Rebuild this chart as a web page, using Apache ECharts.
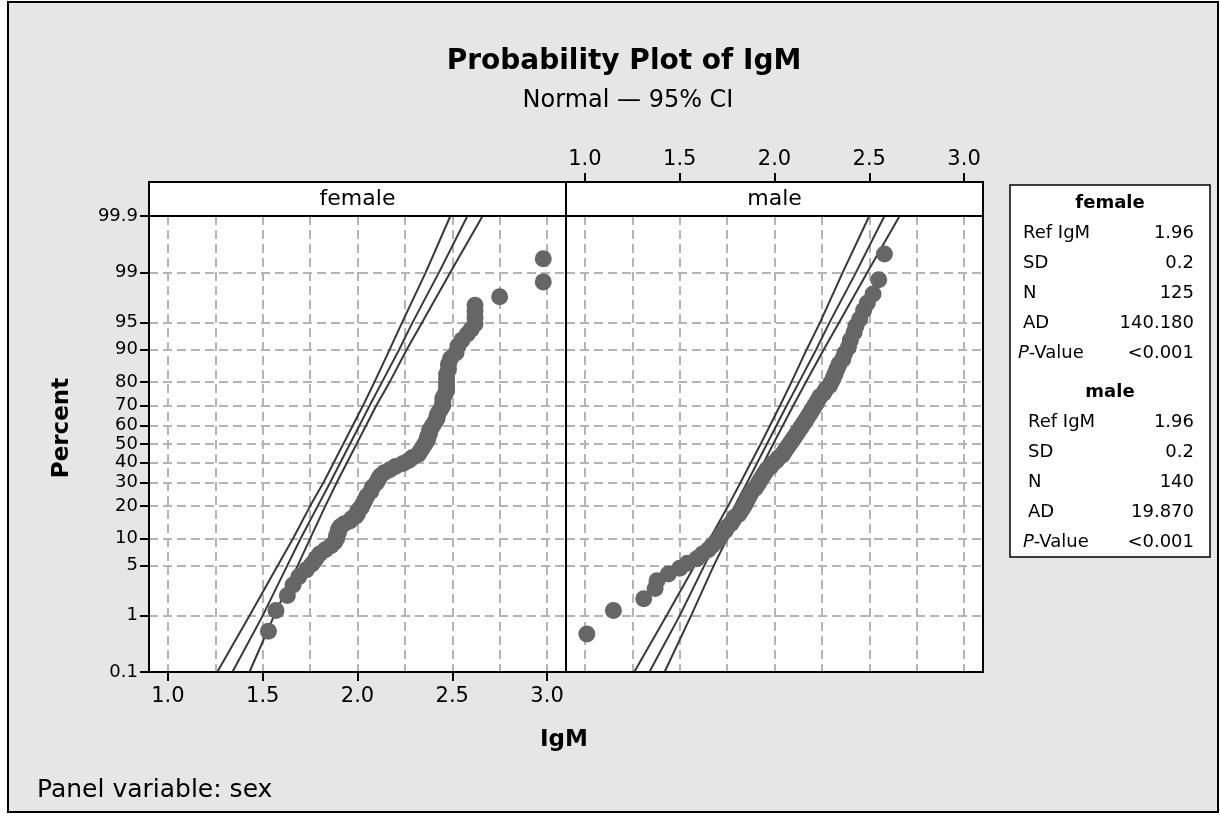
<!DOCTYPE html>
<html><head><meta charset="utf-8">
<script src="https://cdn.jsdelivr.net/npm/echarts@6/dist/echarts.min.js"></script>
<style>html,body{margin:0;padding:0;background:#fff}#c{width:1220px;height:819px}</style>
</head><body><div id="c"></div>
<script>
// ---------- data ----------
const pctTicks = [0.1, 1, 5, 10, 20, 30, 40, 50, 60, 70, 80, 90, 95, 99, 99.9];
const xTicks = [1.0, 1.5, 2.0, 2.5, 3.0];
const xGridVals = [1.0, 1.25, 1.5, 1.75, 2.0, 2.25, 2.5, 2.75, 3.0];
const panels = ['female', 'male'];

const femaleIgM = [1.53,1.57,1.63,1.66,1.69,1.73,1.76,1.78,1.80,1.83,1.86,1.88,1.89,1.89,1.90,1.90,1.91,1.93,1.96,1.97,1.99,2.00,2.00,2.01,2.02,2.03,2.04,2.05,2.07,2.08,2.10,2.11,2.12,2.14,2.17,2.20,2.24,2.27,2.29,2.32,2.33,2.34,2.35,2.36,2.37,2.37,2.38,2.38,2.39,2.40,2.41,2.42,2.42,2.43,2.44,2.45,2.45,2.45,2.46,2.47,2.47,2.47,2.47,2.47,2.48,2.48,2.49,2.52,2.53,2.55,2.58,2.60,2.62,2.62,2.62,2.62,2.75,2.98,2.98];
const femalePct = [0.56,1.2,2.0,2.8,3.6,4.4,5.2,6.0,6.8,7.6,8.4,9.2,10.0,10.8,11.6,12.4,13.2,14.0,14.8,15.6,16.4,17.2,18.0,18.8,19.6,21,22.4,24,26,28,30,31.6,33.2,34.8,36.4,38,39.6,41.2,42.8,44.4,46,47.6,49.2,50.8,52.4,54,55.6,57.2,58.8,60.4,62,63.6,65.2,66.8,68.4,70,71.6,73.2,74.8,76.4,78,79.6,81.2,82.8,84.4,86,87.6,89.2,90.8,92.0,93.2,94.0,94.8,95.6,96.4,97.0,97.7,98.6,99.4];

const maleIgM = [1.01,1.15,1.31,1.37,1.38,1.44,1.50,1.54,1.59,1.62,1.65,1.67,1.69,1.71,1.72,1.74,1.75,1.77,1.78,1.79,1.81,1.82,1.83,1.84,1.85,1.86,1.87,1.88,1.90,1.91,1.92,1.93,1.94,1.95,1.96,1.98,1.99,2.01,2.02,2.04,2.05,2.06,2.07,2.08,2.09,2.10,2.11,2.12,2.13,2.14,2.15,2.16,2.17,2.18,2.19,2.20,2.21,2.22,2.23,2.24,2.26,2.27,2.29,2.30,2.31,2.32,2.33,2.34,2.36,2.37,2.39,2.40,2.42,2.43,2.45,2.47,2.49,2.52,2.55,2.58];
const malePct = [0.5,1.2,1.8,2.5,3.2,3.9,4.6,5.3,6.0,6.8,7.6,8.4,9.2,10.0,11.0,12.0,13.0,14.0,15.0,16.0,17,18,19,20,21.5,23,24.5,26,27.5,29,30.5,32,33.5,35,36.5,38,39.5,41,42.5,44,45.5,47,48.5,50,51.5,53,54.5,56,57.5,59,60.5,62,63.5,65,66.5,68,69.5,71,72.5,74,75.5,77,78.5,80,81.5,83,84.5,86,87.5,89,90.5,92,93.5,94.5,95.5,96.5,97.2,97.9,98.7,99.5];

const linePct = [0.1, 1, 5, 10, 20, 30, 50, 70, 80, 90, 95, 99, 99.9];
const femaleLower = [1.26,1.43,1.58,1.66,1.75,1.82,1.925,2.03,2.09,2.17,2.235,2.36,2.49];
const femaleFit   = [1.34,1.50,1.63,1.70,1.79,1.855,1.96,2.065,2.13,2.22,2.29,2.43,2.58];
const femaleUpper = [1.43,1.56,1.685,1.75,1.83,1.89,1.995,2.10,2.17,2.26,2.34,2.49,2.66];
const maleLower = [1.26,1.43,1.58,1.66,1.755,1.82,1.927,2.03,2.09,2.17,2.24,2.36,2.50];
const maleFit   = [1.34,1.50,1.63,1.70,1.79,1.855,1.96,2.065,2.13,2.22,2.29,2.43,2.58];
const maleUpper = [1.42,1.56,1.68,1.75,1.83,1.89,1.993,2.10,2.166,2.26,2.34,2.49,2.66];

const statLabels = ['Ref IgM', 'SD', 'N', 'AD', '{i|P}-Value'];
const femaleStats = ['1.96', '0.2', '125', '140.180', '<0.001'];
const maleStats = ['1.96', '0.2', '140', '19.870', '<0.001'];

// ---------- normal probability scale ----------
function probit(p){
  const a=[-3.969683028665376e+01,2.209460984245205e+02,-2.759285104469687e+02,1.383577518672690e+02,-3.066479806614716e+01,2.506628277459239e+00];
  const b=[-5.447609879822406e+01,1.615858368580409e+02,-1.556989798598866e+02,6.680131188771972e+01,-1.328068155288572e+01];
  const c=[-7.784894002430293e-03,-3.223964580411365e-01,-2.400758277161838e+00,-2.549732539343734e+00,4.374664141464968e+00,2.938163982698783e+00];
  const d=[7.784695709041462e-03,3.224671290700398e-01,2.445134137142996e+00,3.754408661907416e+00];
  const pl=0.02425, ph=1-pl; let q, r;
  if(p<pl){q=Math.sqrt(-2*Math.log(p));return (((((c[0]*q+c[1])*q+c[2])*q+c[3])*q+c[4])*q+c[5])/((((d[0]*q+d[1])*q+d[2])*q+d[3])*q+1);}
  if(p<=ph){q=p-0.5;r=q*q;return (((((a[0]*r+a[1])*r+a[2])*r+a[3])*r+a[4])*r+a[5])*q/(((((b[0]*r+b[1])*r+b[2])*r+b[3])*r+b[4])*r+1);}
  q=Math.sqrt(-2*Math.log(1-p));return -(((((c[0]*q+c[1])*q+c[2])*q+c[3])*q+c[4])*q+c[5])/((((d[0]*q+d[1])*q+d[2])*q+d[3])*q+1);
}
const Z = p => probit(p / 100);
const yTickZ = pctTicks.map(Z);
const zMin = Z(0.1), zMax = Z(99.9);
function pctLabel(v){
  let best = 0;
  for (let i = 1; i < yTickZ.length; i++) if (Math.abs(yTickZ[i]-v) < Math.abs(yTickZ[best]-v)) best = i;
  return String(pctTicks[best]);
}

// ---------- layout ----------
const FONT = 'DejaVu Sans';
const L = 149, T = 216, PW = 417, PH = 456, STRIP = 34;
const X_MIN = 0.9, X_MAX = 3.1;
const gridLine = {show: true, lineStyle: {color: '#b4b4b4', width: 2, type: [9, 5]}};
const pts = (xs, ps) => xs.map((x, i) => [x, Z(ps[i])]);
const lineSeries = (xs, xi, yi) => ({
  type: 'line', xAxisIndex: xi, yAxisIndex: yi, showSymbol: false, silent: true, z: 2,
  lineStyle: {color: '#383838', width: 2}, data: linePct.map((p, i) => [xs[i], Z(p)])
});
const scatter = (xs, ps, xi, yi) => ({
  type: 'scatter', xAxisIndex: xi, yAxisIndex: yi, symbol: 'circle', symbolSize: 17, z: 3,
  itemStyle: {color: '#666666', opacity: 1}, silent: true, data: pts(xs, ps)
});

const graphics = [
  {type: 'rect', z: -100, shape: {x: 8, y: 2, width: 1210, height: 810}, style: {fill: '#e6e6e6', stroke: '#000', lineWidth: 2}},
  {type: 'rect', z: 50, shape: {x: L, y: T - STRIP, width: 2 * PW, height: STRIP}, style: {fill: '#fff', stroke: '#000', lineWidth: 2}},
  {type: 'rect', z: 50, shape: {x: L, y: T, width: 2 * PW, height: PH}, style: {fill: 'transparent', stroke: '#000', lineWidth: 2}},
  {type: 'line', z: 51, shape: {x1: L + PW, y1: T - STRIP, x2: L + PW, y2: T + PH}, style: {stroke: '#000', lineWidth: 2}},
  {type: 'text', z: 52, x: L + PW / 2, y: T - STRIP / 2, style: {text: panels[0], font: '22px "' + FONT + '"', fill: '#000', align: 'center', verticalAlign: 'middle'}},
  {type: 'text', z: 52, x: L + PW * 1.5, y: T - STRIP / 2, style: {text: panels[1], font: '22px "' + FONT + '"', fill: '#000', align: 'center', verticalAlign: 'middle'}},
  {type: 'text', z: 52, x: 624, y: 62, style: {text: 'Probability Plot of IgM', font: 'bold 28px "' + FONT + '"', fill: '#000', align: 'center', verticalAlign: 'middle'}},
  {type: 'text', z: 52, x: 628, y: 101, style: {text: 'Normal \u2014 95% CI', font: '24px "' + FONT + '"', fill: '#000', align: 'center', verticalAlign: 'middle'}},
  {type: 'text', z: 52, x: 62, y: 428, rotation: Math.PI / 2, style: {text: 'Percent', font: 'bold 23px "' + FONT + '"', fill: '#000', align: 'center', verticalAlign: 'middle'}},
  {type: 'text', z: 52, x: 564, y: 740, style: {text: 'IgM', font: 'bold 23px "' + FONT + '"', fill: '#000', align: 'center', verticalAlign: 'middle'}},
  {type: 'text', z: 52, x: 37, y: 790, style: {text: 'Panel variable: sex', font: '25px "' + FONT + '"', fill: '#000', align: 'left', verticalAlign: 'middle'}},
  // legend box
  {type: 'rect', z: 50, shape: {x: 1010, y: 185, width: 200, height: 372}, style: {fill: '#fff', stroke: '#000', lineWidth: 1.5}}
];
function statBlock(title, labels, vals, y0, lx) {
  graphics.push({type: 'text', z: 52, x: 1110, y: y0, style: {text: title, font: 'bold 18px "' + FONT + '"', fill: '#000', align: 'center', verticalAlign: 'middle'}});
  labels.forEach((lab, i) => {
    const y = y0 + 30 * (i + 1);
    graphics.push({type: 'text', z: 52, x: lx - (i === 4 ? 5 : 0), y: y, style: {text: lab, font: '18px "' + FONT + '"', fill: '#000', align: 'left', verticalAlign: 'middle', rich: {i: {fontStyle: 'italic', fontSize: 18, fontFamily: FONT}}}});
    graphics.push({type: 'text', z: 52, x: 1194, y: y, style: {text: vals[i], font: '18px "' + FONT + '"', fill: '#000', align: 'right', verticalAlign: 'middle'}});
  });
}
statBlock(panels[0], statLabels, femaleStats, 203, 1023);
statBlock(panels[1], statLabels, maleStats, 392, 1028);

const tickStyle = {color: '#000', width: 2};
const option = {
  backgroundColor: '#ffffff',
  animation: false,
  grid: [
    {left: L, top: T, width: PW, height: PH, show: true, backgroundColor: '#fff', borderWidth: 0},
    {left: L + PW, top: T, width: PW, height: PH, show: true, backgroundColor: '#fff', borderWidth: 0}
  ],
  xAxis: [
    {gridIndex: 0, type: 'value', min: X_MIN, max: X_MAX, position: 'bottom',
     axisLine: {show: false, onZero: false},
     axisTick: {show: true, length: 9, lineStyle: tickStyle, customValues: xTicks},
     axisLabel: {customValues: xTicks, formatter: v => v.toFixed(1), color: '#000', fontSize: 21, fontFamily: FONT, margin: 14},
     splitLine: {show: false}},
    {gridIndex: 0, type: 'value', min: X_MIN, max: X_MAX, position: 'bottom',
     axisLine: {show: false, onZero: false}, axisTick: {show: false, customValues: xGridVals}, axisLabel: {show: false}, splitLine: gridLine},
    {gridIndex: 1, type: 'value', min: X_MIN, max: X_MAX, position: 'top', offset: STRIP,
     axisLine: {show: false, onZero: false},
     axisTick: {show: true, length: 9, lineStyle: tickStyle, customValues: xTicks},
     axisLabel: {customValues: xTicks, formatter: v => v.toFixed(1), color: '#000', fontSize: 21, fontFamily: FONT, margin: 12},
     splitLine: {show: false}},
    {gridIndex: 1, type: 'value', min: X_MIN, max: X_MAX, position: 'bottom',
     axisLine: {show: false, onZero: false}, axisTick: {show: false, customValues: xGridVals}, axisLabel: {show: false}, splitLine: gridLine}
  ],
  yAxis: [
    {gridIndex: 0, type: 'value', min: zMin, max: zMax, position: 'left',
     axisLine: {show: false, onZero: false},
     axisTick: {show: true, length: 9, lineStyle: tickStyle, customValues: yTickZ},
     axisLabel: {customValues: yTickZ, formatter: pctLabel, color: '#000', fontSize: 18, fontFamily: FONT, margin: 11, showMinLabel: true, showMaxLabel: true},
     splitLine: gridLine},
    {gridIndex: 1, type: 'value', min: zMin, max: zMax, position: 'left',
     axisLine: {show: false, onZero: false}, axisTick: {show: false, customValues: yTickZ}, axisLabel: {show: false}, splitLine: gridLine}
  ],
  series: [
    lineSeries(femaleLower, 0, 0), lineSeries(femaleFit, 0, 0), lineSeries(femaleUpper, 0, 0),
    scatter(femaleIgM, femalePct, 0, 0),
    lineSeries(maleLower, 2, 1), lineSeries(maleFit, 2, 1), lineSeries(maleUpper, 2, 1),
    scatter(maleIgM, malePct, 2, 1)
  ],
  graphic: {elements: graphics}
};
const chart = echarts.init(document.getElementById('c'), null, {renderer: 'canvas'});
chart.setOption(option);
</script>
</body></html>
